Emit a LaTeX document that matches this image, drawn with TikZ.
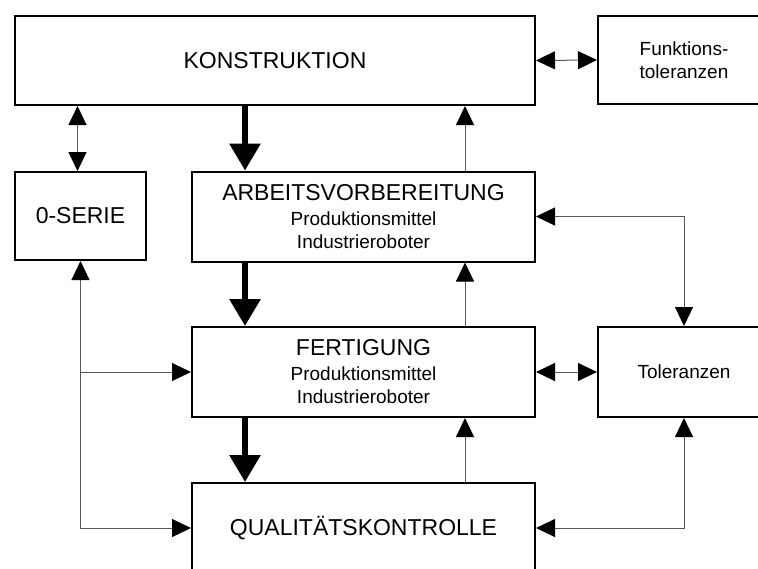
\documentclass[tikz,border=0pt]{standalone}
\usepackage{fontspec}
\setmainfont{Liberation Sans}
\usetikzlibrary{arrows.meta,positioning,calc}

\begin{document}
\begin{tikzpicture}[
    x=0.5pt, y=0.5pt,
    font=\fontsize{9.5}{11.5}\selectfont,
    boxstyle/.style={draw=black, line width=1pt, inner sep=0pt, align=center},
    widestyle/.style={boxstyle, minimum width=171.5pt, minimum height=45pt},
    sidestyle/.style={boxstyle, minimum width=86pt, minimum height=45pt},
    headstyle/.style={font=\fontsize{11.5}{13}\selectfont},
    mainpathstyle/.style={line width=3pt, -{Triangle[length=13.5pt,width=15pt]}},
    pathstyle/.style={draw=black!65, line width=0.5pt, -{Triangle[length=9.5pt,width=9pt,color=black]}},
    bothpathstyle/.style={pathstyle, {Triangle[length=9.5pt,width=9pt,color=black]}-{Triangle[length=9.5pt,width=9pt,color=black]}}
  ]
  \useasboundingbox (0,0) rectangle (758,-568);
  \clip (0,0) rectangle (758,-568);

  \node[boxstyle, headstyle, minimum width=260pt, minimum height=44.5pt] (KONSTR)
    at (275,-60.5) {KONSTRUKTION};
  \node[sidestyle, minimum height=44pt] (FUNKT)
    at (684,-60) {Funktions-\\toleranzen};
  \node[boxstyle, headstyle, minimum width=65.5pt, minimum height=44pt] (ZEROSERIE)
    at (80.5,-216) {0-SERIE};
  \node[widestyle] (ARBEIT)
    at (363.5,-216.5) {{\fontsize{11.5}{13}\selectfont ARBEITSVORBEREITUNG}\\[1pt]
      Produktionsmittel\\Industrieroboter};
  \node[widestyle] (FERTIG)
    at (363.5,-372) {{\fontsize{11.5}{13}\selectfont FERTIGUNG}\\[1pt]
      Produktionsmittel\\Industrieroboter};
  \node[sidestyle] (TOLER)
    at (684,-372) {Toleranzen};
  \node[widestyle, headstyle] (QUALI)
    at (363.5,-528) {QUALITÄTSKONTROLLE};

  \coordinate (DOWNX) at (245,0);
  \coordinate (UPX) at (465,0);

  % main flow down the middle
  \draw[mainpathstyle] (KONSTR.south -| DOWNX) -- (ARBEIT.north -| DOWNX);
  \draw[mainpathstyle] (ARBEIT.south -| DOWNX) -- (FERTIG.north -| DOWNX);
  \draw[mainpathstyle] (FERTIG.south -| DOWNX) -- (QUALI.north -| DOWNX);

  % feedback upwards
  \draw[pathstyle] (ARBEIT.north -| UPX) -- (KONSTR.south -| UPX);
  \draw[pathstyle] (FERTIG.north -| UPX) -- (ARBEIT.south -| UPX);
  \draw[pathstyle] (QUALI.north -| UPX) -- (FERTIG.south -| UPX);

  \draw[bothpathstyle] (KONSTR.east) -- (FUNKT.west);
  \draw[bothpathstyle] ([xshift=-1.5pt]ZEROSERIE.north) -- ([xshift=-1.5pt]ZEROSERIE.north |- KONSTR.south);
  \draw[bothpathstyle] (ARBEIT.east) -| (TOLER.north);
  \draw[bothpathstyle] (FERTIG.east) -- (TOLER.west);
  \draw[bothpathstyle] (TOLER.south) |- (QUALI.east);
  \draw[bothpathstyle] (ZEROSERIE.south) |- (QUALI.west);
  \draw[pathstyle] (ZEROSERIE.south |- FERTIG.west) -- (FERTIG.west);
\end{tikzpicture}
\end{document}
